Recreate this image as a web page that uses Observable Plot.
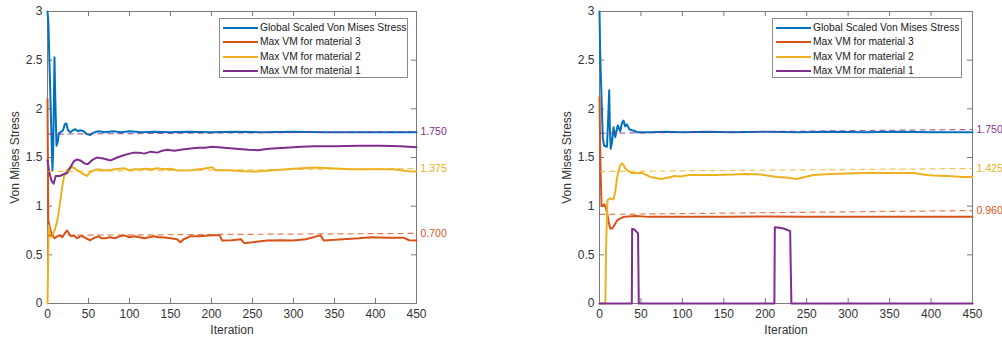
<!DOCTYPE html>
<html><head><meta charset="utf-8">
<script src="https://cdn.jsdelivr.net/npm/d3@7"></script>
<script src="https://cdn.jsdelivr.net/npm/@observablehq/plot@0.6"></script>
<style>
html,body{margin:0;padding:0;background:#fff;}
#wrap{position:relative;width:1002px;height:343px;overflow:hidden;font-family:"Liberation Sans",Arial,sans-serif;}
.panel{position:absolute;top:0;}
.panel svg{overflow:visible;}
.legend{position:absolute;background:#fff;border:1px solid #8a8a8a;box-sizing:border-box;}
.legend .row{position:absolute;left:0;height:14px;width:100%;}
.legend .sw{position:absolute;left:3px;top:6px;width:35px;height:2px;}
.legend .tx{position:absolute;left:40px;top:0;line-height:14px;font-size:10.3px;color:#1a1a1a;white-space:nowrap;}
</style></head><body><div id="wrap"></div>
<script>
// ---- tick labels / categories ----
const xTicks = [0, 50, 100, 150, 200, 250, 300, 350, 400, 450];
const yTicks = [0, 0.5, 1, 1.5, 2, 2.5, 3];
const yTickLabels = ["0", "0.5", "1", "1.5", "2", "2.5", "3"];
const legendLabels = ["Global Scaled Von Mises Stress", "Max VM for material 3", "Max VM for material 2", "Max VM for material 1"];
const seriesColors = ["#0072BD", "#D95319", "#EDB120", "#7E2F8E"];
const yLabel = "Von Mises Stress";
const xLabel = "Iteration";

// ---- left chart series [iteration, value] ----
const leftGlobal = [[0,3.0],[1,2.9],[6,1.37],[7,1.6],[8.5,2.53],[9.5,2.1],[11,1.62],[12.5,1.66],[14,1.75],[16,1.76],[19,1.78],[21,1.84],[23,1.85],[25,1.78],[28,1.76],[31,1.78],[34,1.79],[37,1.77],[40,1.78],[44,1.77],[48,1.74],[52,1.73],[55,1.75],[58,1.76],[62,1.77],[70,1.76],[80,1.77],[90,1.76],[100,1.77],[115,1.76],[130,1.765],[150,1.76],[170,1.765],[200,1.76],[230,1.765],[260,1.76],[300,1.765],[340,1.76],[380,1.76],[420,1.76],[450,1.76]];
const leftMat3 = [[0,2.1],[1,0.85],[4,0.74],[6,0.70],[9,0.67],[12,0.69],[15,0.70],[18,0.68],[21,0.72],[24,0.75],[27,0.71],[29,0.69],[32,0.70],[36,0.67],[40,0.69],[43,0.69],[47,0.67],[52,0.65],[56,0.67],[62,0.69],[66,0.67],[71,0.67],[76,0.68],[82,0.67],[88,0.69],[93,0.70],[100,0.68],[106,0.69],[112,0.68],[118,0.67],[124,0.68],[130,0.69],[135,0.68],[140,0.68],[150,0.67],[158,0.66],[162,0.63],[166,0.66],[174,0.69],[185,0.69],[201,0.70],[210,0.70],[213,0.647],[225,0.65],[236,0.66],[240,0.62],[250,0.63],[268,0.647],[285,0.65],[300,0.647],[315,0.66],[333,0.70],[337,0.647],[360,0.66],[380,0.67],[394,0.68],[415,0.675],[435,0.675],[441,0.65],[450,0.647]];
const leftMat2 = [[0,0],[1.5,0.8],[3,0.70],[5,0.68],[7,0.72],[9,0.76],[11,0.82],[13,0.90],[16,1.08],[18,1.2],[20,1.30],[23,1.36],[26,1.39],[30,1.40],[33,1.39],[36,1.37],[40,1.35],[44,1.33],[48,1.31],[51,1.34],[54,1.36],[58,1.37],[62,1.38],[68,1.37],[75,1.37],[82,1.38],[93,1.39],[100,1.37],[106,1.38],[113,1.38],[120,1.385],[127,1.38],[134,1.39],[142,1.38],[150,1.385],[157,1.37],[162,1.366],[175,1.37],[190,1.385],[201,1.40],[205,1.37],[220,1.37],[240,1.36],[256,1.356],[275,1.37],[300,1.385],[325,1.397],[345,1.39],[369,1.38],[390,1.38],[422,1.38],[430,1.37],[440,1.36],[450,1.356]];
const leftMat1 = [[0,1.47],[2,1.35],[5,1.26],[7.5,1.23],[10,1.31],[15,1.31],[20,1.33],[24,1.34],[28,1.40],[32,1.46],[36,1.48],[40,1.47],[45,1.44],[49,1.43],[54,1.47],[60,1.50],[68,1.49],[77,1.47],[85,1.50],[92,1.52],[100,1.54],[105,1.55],[112,1.55],[118,1.54],[126,1.56],[134,1.55],[140,1.57],[146,1.58],[155,1.57],[162,1.58],[172,1.59],[183,1.60],[192,1.60],[201,1.61],[215,1.60],[230,1.59],[245,1.58],[256,1.575],[270,1.59],[290,1.60],[310,1.61],[325,1.615],[350,1.615],[380,1.62],[406,1.62],[430,1.615],[450,1.605]];

// ---- right chart series [iteration, value] ----
const rightGlobal = [[0,3],[1,2.5],[4,1.7],[5.6,1.62],[9,1.61],[10.5,1.9],[11.7,2.19],[12.5,1.8],[13.5,1.59],[15,1.65],[17,1.81],[19,1.71],[22,1.83],[25,1.77],[27,1.85],[29,1.88],[31,1.82],[33,1.84],[36,1.79],[39,1.78],[42,1.775],[45,1.76],[60,1.76],[80,1.765],[100,1.76],[130,1.765],[160,1.76],[200,1.765],[240,1.76],[280,1.765],[320,1.76],[360,1.765],[400,1.76],[450,1.76]];
const rightMat3 = [[0,2.12],[1,1.5],[2.4,1.01],[4,1.0],[5.6,1.02],[7,1.0],[9,0.94],[11,0.84],[13,0.77],[15,0.77],[17,0.79],[19,0.82],[21,0.85],[24,0.87],[27,0.88],[29,0.89],[35,0.895],[43,0.90],[60,0.89],[100,0.89],[150,0.89],[200,0.895],[250,0.89],[300,0.89],[350,0.89],[400,0.89],[450,0.89]];
const rightMat2 = [[0,0],[7,0],[8,0.6],[9.6,1.06],[11,1.07],[13,1.08],[15,1.07],[17,1.07],[19,1.15],[21,1.28],[23,1.36],[25,1.42],[27,1.44],[29,1.42],[31,1.39],[35,1.36],[39,1.34],[45,1.34],[52,1.34],[61,1.30],[68,1.29],[75,1.28],[83,1.295],[91,1.31],[98,1.305],[108,1.32],[124,1.32],[140,1.32],[160,1.325],[178,1.33],[195,1.325],[214,1.30],[225,1.295],[238,1.28],[248,1.30],[258,1.32],[280,1.33],[300,1.335],[318,1.34],[340,1.34],[360,1.34],[379,1.34],[395,1.32],[403,1.315],[420,1.31],[439,1.30],[450,1.30]];
const rightMat1 = [[0,0],[39,0],[39.4,0.767],[42,0.76],[45.5,0.73],[46.5,0.72],[47.4,0],[211,0],[211.5,0.784],[215,0.78],[222,0.77],[230,0.743],[231.5,0],[450,0]];

// ---- dashed reference lines: [startIter, startValue, endIter, endValue, label, colorIndex] ----
const leftRefs = [[0,1.74,450,1.765,"1.750",3],[0,1.356,450,1.387,"1.375",2],[0,0.70,450,0.72,"0.700",1]];
const rightRefs = [[0,1.749,450,1.788,"1.750",3],[0,1.356,450,1.387,"1.425",2],[0,0.915,450,0.955,"0.960",1]];

const W = 501, H = 343;
const FONT = '"Liberation Sans", Arial, sans-serif';

function chart(series, refs, ml, mr) {
  const mt = 11, mb = 40;
  const innerW = W - ml - mr, innerH = H - mt - mb;
  const marks = [];
  marks.push(Plot.frame({stroke: "#7a7a7a"}));
  // inward ticks on all four sides
  marks.push(Plot.tickX(xTicks, {x: d => d, insetTop: innerH - 5, stroke: "#7a7a7a"}));
  marks.push(Plot.tickX(xTicks, {x: d => d, insetBottom: innerH - 5, stroke: "#7a7a7a"}));
  marks.push(Plot.tickY(yTicks, {y: d => d, insetRight: innerW - 5, stroke: "#7a7a7a"}));
  marks.push(Plot.tickY(yTicks, {y: d => d, insetLeft: innerW - 5, stroke: "#7a7a7a"}));
  marks.push(Plot.axisX({ticks: xTicks, tickSize: 0, tickPadding: 6, tickFormat: d => String(d), label: null, fontSize: 12}));
  marks.push(Plot.axisY({ticks: yTicks, tickSize: 0, tickPadding: 5, tickFormat: d => yTickLabels[yTicks.indexOf(d)], label: null, fontSize: 12}));
  series.forEach((s, i) => {
    marks.push(Plot.line(s, {x: d => d[0], y: d => d[1], stroke: seriesColors[i], strokeWidth: 2, strokeLinejoin: "round"}));
  });
  refs.forEach(r => {
    marks.push(Plot.link([r], {x1: d => d[0], y1: d => d[1], x2: d => d[2], y2: d => d[3], stroke: seriesColors[r[5]], strokeWidth: 1.2, strokeOpacity: 0.75, strokeDasharray: "6,4"}));
    marks.push(Plot.text([r], {x: d => d[2], y: d => d[3], text: d => d[4], fill: seriesColors[r[5]], textAnchor: "start", dx: 4, fontSize: 10.5}));
  });
  marks.push(Plot.text([yLabel], {text: d => d, frameAnchor: "left", textAnchor: "middle", lineAnchor: "middle", rotate: -90, dx: -32, fontSize: 12}));
  marks.push(Plot.text([xLabel], {text: d => d, frameAnchor: "bottom", textAnchor: "middle", lineAnchor: "middle", dy: 27, fontSize: 12}));
  return Plot.plot({
    width: W, height: H,
    marginTop: mt, marginBottom: mb, marginLeft: ml, marginRight: mr,
    x: {domain: [0, 450]},
    y: {domain: [0, 3]},
    style: {fontFamily: FONT, fontSize: "12px", color: "#333", background: "#fff", overflow: "visible"},
    marks
  });
}

function legend(left, top, width) {
  const box = document.createElement("div");
  box.className = "legend";
  box.style.left = left + "px"; box.style.top = top + "px";
  box.style.width = width + "px"; box.style.height = "60px";
  legendLabels.forEach((lab, i) => {
    const row = document.createElement("div");
    row.className = "row";
    row.style.top = (2 + i * 14.3) + "px";
    const sw = document.createElement("div");
    sw.className = "sw"; sw.style.background = seriesColors[i];
    const tx = document.createElement("div");
    tx.className = "tx"; tx.textContent = lab;
    row.appendChild(sw); row.appendChild(tx);
    box.appendChild(row);
  });
  return box;
}

const wrap = document.getElementById("wrap");
const p1 = document.createElement("div"); p1.className = "panel"; p1.style.left = "0px";
p1.appendChild(chart([leftGlobal, leftMat3, leftMat2, leftMat1], leftRefs, 47, 85));
const p2 = document.createElement("div"); p2.className = "panel"; p2.style.left = "501px";
p2.appendChild(chart([rightGlobal, rightMat3, rightMat2, rightMat1], rightRefs, 98, 30));
wrap.appendChild(p1); wrap.appendChild(p2);
wrap.appendChild(legend(219, 18, 189));
wrap.appendChild(legend(772, 18, 190));
</script>
</body></html>
